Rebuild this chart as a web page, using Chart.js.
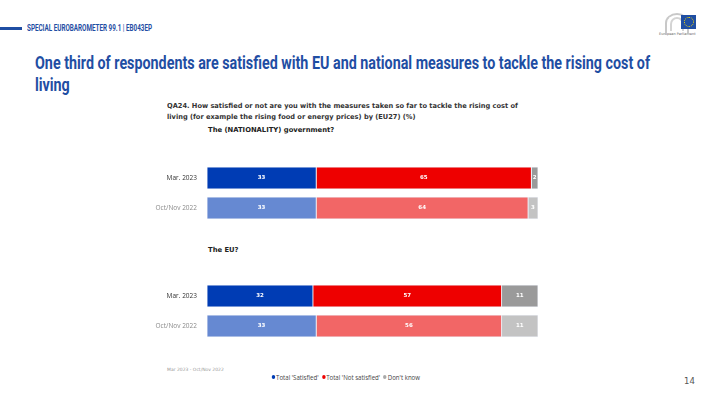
<!DOCTYPE html>
<html>
<head>
<meta charset="utf-8">
<script src="https://cdn.jsdelivr.net/npm/chart.js@4"></script>
<style>
  body { margin: 0; width: 704px; height: 394px; background: #fff; position: relative; overflow: hidden; font-family: "DejaVu Sans", sans-serif; }
  .abs { position: absolute; white-space: nowrap; }
  #hdrline { left: 0; top: 27px; width: 22px; height: 3px; background: #1f4ea3; }
  #hdr { left: 27px; top: 23px; font: bold 9px Roboto, sans-serif; color: #1f4ea3; transform-origin: 0 0; }
  #title { left: 35px; top: 52px; font: bold 18px/22px Roboto, sans-serif; color: #1f4ea3; transform-origin: 0 0; }
  #question { left: 167px; top: 101px; font: bold 6.9px/11px "DejaVu Sans", sans-serif; color: #333; transform-origin: 0 0; }
  .sub { font: bold 6.8px "DejaVu Sans", sans-serif; color: #222; }
  #foot { left: 167px; top: 367px; font: 4.5px "DejaVu Sans", sans-serif; color: #999; }
  #legend { left: 270px; top: 373px; font: 7px "Open Sans", "DejaVu Sans", sans-serif; color: #444; transform-origin: 0 0; }
  #legend span.dot { display: inline-block; width: 4px; height: 4px; border-radius: 50%; margin: 0 1px 0 2px; vertical-align: 1px; }
  #page { left: 684px; top: 376px; font: 8.5px "DejaVu Sans", sans-serif; color: #555; }
  canvas { position: absolute; }
</style>
</head>
<body>
<div id="hdrline" class="abs"></div>
<div id="hdr" class="abs">SPECIAL EUROBAROMETER 99.1 | EB043EP</div>
<div class="abs" style="left:661px;top:9px;width:44px;height:30px;">
  <div class="abs" style="left:4px;top:4px;width:24px;height:20px;border-radius:50% 50% 0 0;border:2px solid #c8c8c8;border-bottom:none;box-sizing:border-box;"></div>
  <div class="abs" style="left:9px;top:8px;width:14px;height:14px;border-radius:50% 50% 0 0;border:2px solid #d4d4d4;border-bottom:none;box-sizing:border-box;"></div>
  <div class="abs" style="left:20px;top:6px;width:15px;height:14px;background:#1f4ea3;"></div>
  <div class="abs" style="left:23px;top:8px;width:8px;height:8px;border-radius:50%;border:1px dotted #ffdd00;"></div>
  <div class="abs" style="left:-2px;top:23px;font:3.5px 'DejaVu Sans',sans-serif;color:#666;">European Parliament</div>
</div>
<div id="title" class="abs"><span id="t1">One third of respondents are satisfied with EU and national measures to tackle the rising cost of</span><br>living</div>
<div id="question" class="abs"><span id="q1">QA24. How satisfied or not are you with the measures taken so far to tackle the rising cost of</span><br>living (for example the rising food or energy prices) by (EU27) (%)</div>
<div class="abs sub" style="left:208px;top:126px;">The (NATIONALITY) government?</div>
<div class="abs sub" style="left:208px;top:246px;">The EU?</div>
<canvas id="govChart" style="left:150px;top:163px;" width="388" height="60"></canvas>
<canvas id="euChart" style="left:150px;top:281px;" width="388" height="60"></canvas>
<div id="foot" class="abs">Mar 2023 - Oct/Nov 2022</div>
<div id="legend" class="abs"><span class="dot" style="background:#003cb4"></span>Total 'Satisfied' <span class="dot" style="background:#ee0000"></span>Total 'Not satisfied' <span class="dot" style="background:#aaaaaa"></span>Don't know</div>
<div id="page" class="abs">14</div>
<script>
var waves = ["Mar. 2023", "Oct/Nov 2022"];
var seriesNames = ["Total 'Satisfied'", "Total 'Not satisfied'", "Don't know"];

//government
var govSatisfied = [33, 33];
var govNotSatisfied = [65, 64];
var govDontKnow = [2, 3];

//EU
var euSatisfied = [32, 33];
var euNotSatisfied = [57, 56];
var euDontKnow = [11, 11];

var darkColours = ["#003cb4", "#ee0000", "#9a9a9a"];
var lightColours = ["#6689d2", "#f26666", "#c3c3c3"];

//squeeze text blocks to the widths of the original slide
function fitWidth(id, measureId, target) {
  var el = document.getElementById(id);
  var w = document.getElementById(measureId || id).getBoundingClientRect().width;
  el.style.transform = "scaleX(" + (target / w) + ")";
}
fitWidth("hdr", null, 125);
fitWidth("title", "t1", 615);
fitWidth("question", "q1", 351);
fitWidth("legend", null, 150);

//values inside bars
var barValues = {
  id: "barValues",
  afterDatasetsDraw: function(chart) {
    var ctx = chart.ctx;
    ctx.save();
    ctx.font = "bold 5.5px 'DejaVu Sans', sans-serif";
    ctx.fillStyle = "#ffffff";
    ctx.textAlign = "center";
    ctx.textBaseline = "middle";
    chart.data.datasets.forEach(function(ds, di) {
      chart.getDatasetMeta(di).data.forEach(function(bar, i) {
        var cx = (bar.x + bar.base) / 2;
        ctx.fillText(ds.data[i], cx, bar.y);
      });
    });
    ctx.restore();
  }
};

function makeChart(id, satisfied, notSatisfied, dontKnow) {
  var values = [satisfied, notSatisfied, dontKnow];
  var datasets = values.map(function(v, k) {
    return {
      label: seriesNames[k],
      data: v,
      backgroundColor: [darkColours[k], lightColours[k]],
      borderColor: "#eef1f8",
      borderWidth: 0.8,
      borderSkipped: false,
      barThickness: 22
    };
  });
  new Chart(document.getElementById(id), {
    type: "bar",
    data: { labels: waves, datasets: datasets },
    options: {
      indexAxis: "y",
      responsive: false,
      animation: false,
      layout: { padding: 0 },
      plugins: { legend: { display: false }, tooltip: { enabled: false } },
      scales: {
        x: { stacked: true, min: 0, max: 100, display: false },
        y: {
          stacked: true,
          grid: { display: false },
          border: { display: false },
          ticks: {
            padding: 2,
            font: { size: 6.5, family: "'Open Sans', 'DejaVu Sans', sans-serif" },
            color: function(c) { return c.index == 0 ? "#333333" : "#8a8a8a"; }
          },
          afterFit: function(axis) {
            axis.width = 57;
            axis.paddingTop = 0;
            axis.paddingBottom = 0;
          }
        }
      }
    },
    plugins: [barValues]
  });
}

makeChart("govChart", govSatisfied, govNotSatisfied, govDontKnow);
makeChart("euChart", euSatisfied, euNotSatisfied, euDontKnow);
</script>
</body>
</html>
